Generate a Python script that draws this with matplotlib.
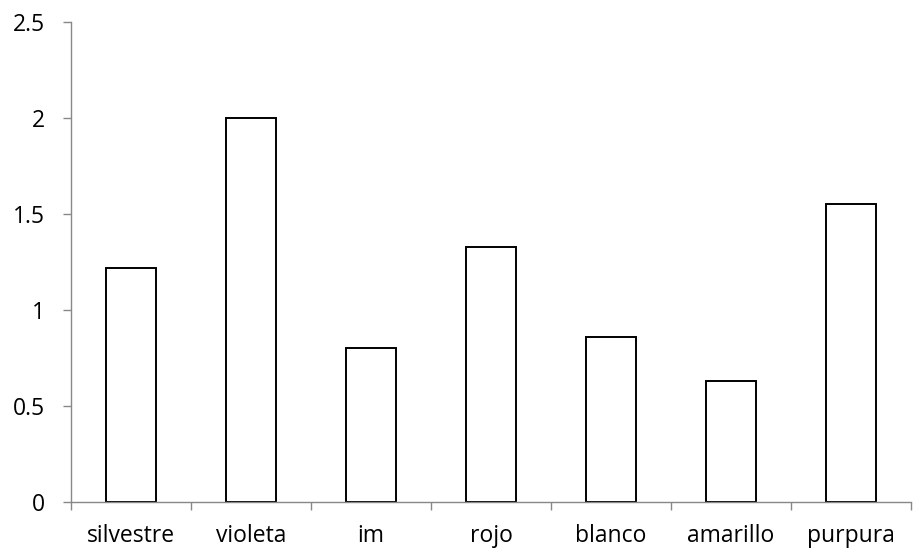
import numpy as np
import matplotlib.pyplot as plt
from matplotlib.ticker import FixedLocator

# Data
categories = ['silvestre', 'violeta', 'im', 'rojo', 'blanco', 'amarillo', 'purpura']
values = [1.22, 2.0, 0.80, 1.33, 0.86, 0.63, 1.55]
y_ticks = [0, 0.5, 1, 1.5, 2, 2.5]
y_tick_labels = ['0', '0.5', '1', '1.5', '2', '2.5']

plt.rcParams['font.family'] = ['Open Sans', 'DejaVu Sans']

fig = plt.figure(figsize=(9.17, 5.52), dpi=100)
ax = fig.add_axes([71 / 917, 1 - 502 / 552, 840 / 917, 480 / 552])

x = np.arange(len(categories))
ax.bar(x, values, width=0.41, color='white', edgecolor='black', linewidth=1.4)

ax.set_xlim(-0.5, len(categories) - 0.5)
ax.set_ylim(0, 2.5)

# y axis
ax.set_yticks(y_ticks)
ax.set_yticklabels(y_tick_labels)
ax.tick_params(axis='y', length=6, width=1, color='#888888', pad=13, labelsize=16.5)

# x axis: labels centred, tick marks between categories
ax.set_xticks(x)
ax.set_xticklabels(categories)
ax.tick_params(axis='x', which='major', length=0, pad=16, labelsize=16.5)
ax.xaxis.set_minor_locator(FixedLocator(np.arange(-0.5, len(categories), 1.0)))
ax.tick_params(axis='x', which='minor', length=6, width=1, color='#888888')

for side in ['top', 'right']:
    ax.spines[side].set_visible(False)
for side in ['left', 'bottom']:
    ax.spines[side].set_color('#888888')
    ax.spines[side].set_linewidth(1)

fig.savefig('out.png', dpi=100)
